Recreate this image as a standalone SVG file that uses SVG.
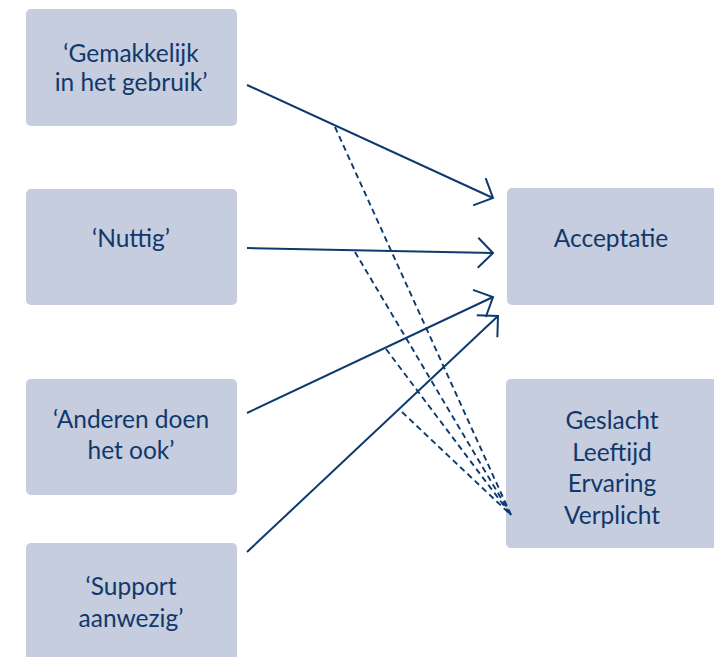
<svg xmlns="http://www.w3.org/2000/svg" width="714" height="657" viewBox="0 0 714 657">
<style>
.box{fill:#c5cddf}
.t{font-family:Lato,"Open Sans","Liberation Sans",sans-serif;font-size:24.5px;fill:#12386a;text-anchor:middle}
.s{stroke:#0d3a6e;stroke-width:2;fill:none}
.d{stroke:#0d3a6e;stroke-width:1.9;fill:none;stroke-dasharray:6 4}
</style>
<defs>
<marker id="ah" viewBox="-22 -16 24 32" markerWidth="24" markerHeight="32" refX="0" refY="0" orient="auto" markerUnits="userSpaceOnUse">
<path d="M-15,-15 L0,0 L-15,15" fill="none" stroke="#0d3a6e" stroke-width="2"/>
</marker>
</defs>
<rect width="714" height="657" fill="#fff"/>
<g id="n1"><rect class="box" x="26" y="9" width="211" height="117" rx="5"/><text class="t" x="131" y="62">‘Gemakkelijk</text><text class="t" x="131" y="91">in het gebruik’</text></g>
<g id="n2"><rect class="box" x="26" y="189" width="211" height="116" rx="5"/><text class="t" x="131" y="247">‘Nuttig’</text></g>
<g id="n3"><rect class="box" x="26" y="379" width="211" height="116" rx="5"/><text class="t" x="131" y="428">‘Anderen doen</text><text class="t" x="131" y="459">het ook’</text></g>
<g id="n4"><rect class="box" x="26" y="543" width="211" height="125" rx="5"/><text class="t" x="131" y="595">‘Support</text><text class="t" x="131" y="627">aanwezig’</text></g>
<g id="n5"><rect class="box" x="507" y="188" width="215" height="117" rx="5"/><text class="t" x="611" y="247">Acceptatie</text></g>
<g id="n6"><rect class="box" x="506" y="379" width="216" height="169" rx="5"/><text class="t" x="612" y="429">Geslacht</text><text class="t" x="612" y="461">Leeftijd</text><text class="t" x="612" y="492">Ervaring</text><text class="t" x="612" y="524">Verplicht</text></g>
<g id="connectors">
<line class="s" x1="247" y1="85" x2="493" y2="198" marker-end="url(#ah)"/>
<line class="s" x1="247" y1="248" x2="493" y2="253" marker-end="url(#ah)"/>
<line class="s" x1="247" y1="413" x2="493" y2="297" marker-end="url(#ah)"/>
<line class="s" x1="247" y1="552" x2="498" y2="316" marker-end="url(#ah)"/>
<line class="d" x1="335" y1="127" x2="511" y2="515"/>
<line class="d" x1="355" y1="252" x2="511" y2="515"/>
<line class="d" x1="386" y1="349" x2="511" y2="515"/>
<line class="d" x1="402" y1="412" x2="511" y2="515"/>
</g>
</svg>
